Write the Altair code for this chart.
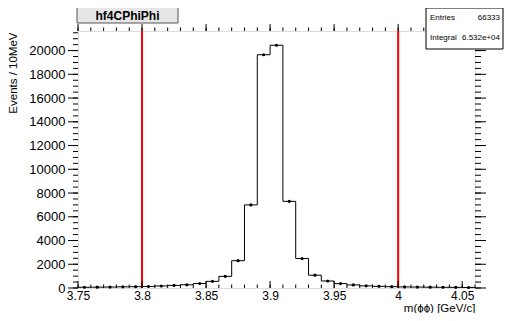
import altair as alt
import pandas as pd

# ---- data ----
bin_lo = [3.75, 3.76, 3.77, 3.78, 3.79, 3.80, 3.81, 3.82, 3.83, 3.84,
          3.85, 3.86, 3.87, 3.88, 3.89, 3.90, 3.91, 3.92, 3.93, 3.94,
          3.95, 3.96, 3.97, 3.98, 3.99, 4.00, 4.01, 4.02, 4.03, 4.04, 4.05]
bin_width = 0.01
counts = [60, 70, 80, 100, 110, 130, 170, 220, 270, 380,
          560, 980, 2300, 7000, 19650, 20450, 7300, 2480, 1080, 590,
          370, 260, 180, 140, 110, 90, 80, 70, 60, 55, 45]
cut_lines = [3.8, 4.0]

x_major = [3.75, 3.8, 3.85, 3.9, 3.95, 4.0, 4.05]
x_minor = [3.75, 3.76, 3.77, 3.78, 3.79, 3.80, 3.81, 3.82, 3.83, 3.84,
           3.85, 3.86, 3.87, 3.88, 3.89, 3.90, 3.91, 3.92, 3.93, 3.94,
           3.95, 3.96, 3.97, 3.98, 3.99, 4.00, 4.01, 4.02, 4.03, 4.04,
           4.05, 4.06]
y_major = [0, 2000, 4000, 6000, 8000, 10000, 12000, 14000, 16000, 18000, 20000]
y_minor = list(range(0, 21501, 500))

title_text = "hf4CPhiPhi"
stats_labels = ["Entries", "Integral"]
stats_values = ["66333", "6.532e+04"]

# ---- layout ----
W, H = 397, 257
FONT = "Liberation Sans"

x_scale = alt.Scale(domain=[3.75, 4.06], nice=False, zero=False)
y_scale = alt.Scale(domain=[0, 21650], nice=False, zero=True)

x_axis = alt.Axis(values=x_major, format="~g", ticks=False, domain=False,
                  grid=False, labelFontSize=12, labelPadding=2,
                  labelFlush=False, labelOverlap=False,
                  labelColor="black", title="m(ϕϕ) [GeV/c]",
                  titleFontSize=11.5, titleFontWeight="normal",
                  titleColor="black", titleAnchor="end",
                  titleAlign="right", titleBaseline="middle",
                  titleX=W, titleY=20)
y_axis = alt.Axis(values=y_major, format="d", ticks=False, domain=False,
                  grid=False, labelFontSize=13, labelPadding=13,
                  labelFlush=False, labelOverlap=False,
                  labelColor="black", title="Events / 10MeV",
                  titleFontSize=11.5, titleFontWeight="normal",
                  titleColor="black", titleAngle=-90,
                  titleAlign="right", titleBaseline="middle",
                  titleX=-65, titleY=1)

def X(field):
    return alt.X(field, type="quantitative", scale=x_scale, axis=x_axis)

def Y(field):
    return alt.Y(field, type="quantitative", scale=y_scale, axis=y_axis)

# step outline of histogram
step_rows = []
k = 0
for lo, c in zip(bin_lo, counts):
    step_rows.append({"x": lo, "y": c, "i": k}); k += 1
    step_rows.append({"x": lo + bin_width, "y": c, "i": k}); k += 1
step_df = pd.DataFrame(step_rows)
pts_df = pd.DataFrame({"x": [lo + bin_width / 2 for lo in bin_lo], "y": counts})

step = alt.Chart(step_df).mark_line(color="black", strokeWidth=1).encode(
    x=X("x"), y=Y("y"), order="i:Q")

points = alt.Chart(pts_df).mark_circle(color="black", size=10, opacity=1).encode(
    x=X("x"), y=Y("y"))

cuts = alt.Chart(pd.DataFrame({"x": cut_lines})).mark_rule(
    color="#ff0000", strokeWidth=2).encode(
    x=X("x"), y=alt.value(0), y2=alt.value(H))

def xticks(vals, y0, y1):
    return alt.Chart(pd.DataFrame({"x": vals})).mark_rule(
        color="black", strokeWidth=1).encode(
        x=X("x"), y=alt.value(y0), y2=alt.value(y1))

def yticks(vals, x0, x1):
    return alt.Chart(pd.DataFrame({"y": vals})).mark_rule(
        color="black", strokeWidth=1).encode(
        y=Y("y"), x=alt.value(x0), x2=alt.value(x1))

ticks = [
    xticks(x_major, H, H - 7), xticks(x_minor, H, H - 3.5),
    xticks(x_major, 0, -7), xticks(x_minor, 0, -3.5),
    yticks(y_major, 0, -10), yticks(y_minor, 0, -5),
    yticks(y_major, W, W + 11), yticks(y_minor, W, W + 6),
]

one = pd.DataFrame({"a": [0]})
title_box = alt.Chart(one).mark_rect(fill="#e6e6e6", stroke="#555555",
                                     strokeWidth=1).encode(
    x=alt.value(-1), x2=alt.value(100), y=alt.value(-24), y2=alt.value(-8))
title_txt = alt.Chart(one).mark_text(font=FONT, fontSize=12, fontWeight="bold",
                                     color="black", align="center",
                                     baseline="middle").encode(
    x=alt.value(49.5), y=alt.value(-15.5), text=alt.value(title_text))

BX0, BX1 = 348, 425
stats_box = alt.Chart(one).mark_rect(fill="white", stroke="black",
                                     strokeWidth=1).encode(
    x=alt.value(BX0), x2=alt.value(BX1), y=alt.value(-23), y2=alt.value(18))
stats_layers = []
for j, (lab, val) in enumerate(zip(stats_labels, stats_values)):
    yy = -13 + 20 * j
    stats_layers.append(alt.Chart(one).mark_text(
        font=FONT, fontSize=8, color="black", align="left",
        baseline="middle").encode(x=alt.value(BX0 + 4), y=alt.value(yy),
                                  text=alt.value(lab)))
    stats_layers.append(alt.Chart(one).mark_text(
        font=FONT, fontSize=8, color="black", align="right",
        baseline="middle").encode(x=alt.value(BX1 - 3), y=alt.value(yy),
                                  text=alt.value(val)))

chart = alt.layer(
    step, points, cuts, *ticks, title_box, title_txt, stats_box, *stats_layers
).properties(
    width=W, height=H,
    padding={"left": 70, "top": 23, "right": 29, "bottom": 25},
    autosize=alt.AutoSizeParams(type="none"),
).configure_view(stroke="black", strokeWidth=1).configure(
    font=FONT, background="white")

chart.save("out.html", embed_options={"renderer": "svg", "actions": False})
